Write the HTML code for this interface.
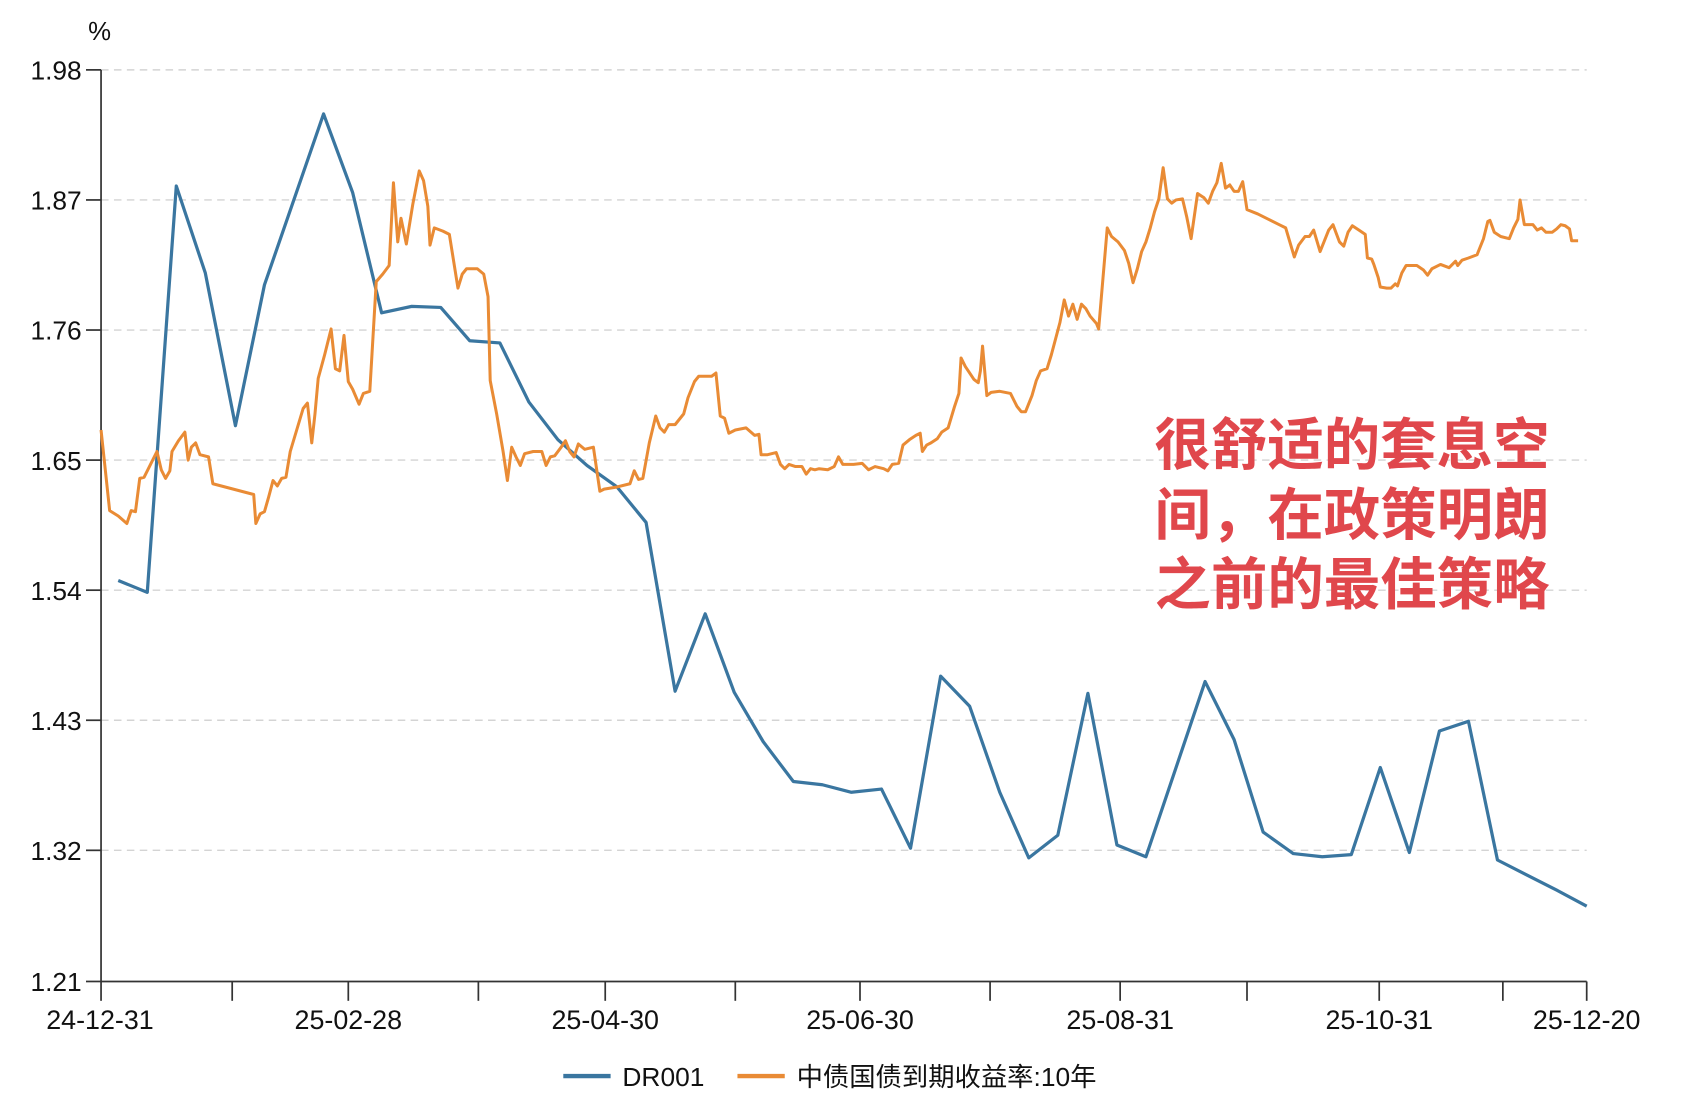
<!DOCTYPE html>
<html><head><meta charset="utf-8"><style>
html,body{margin:0;padding:0;background:#fff;}
svg{display:block;}
text{font-family:"Liberation Sans","Noto Sans CJK SC",sans-serif;fill:#111;}
</style></head><body>
<svg width="1686" height="1100" viewBox="0 0 1686 1100" xmlns="http://www.w3.org/2000/svg">
<g transform="scale(1.075)">
<g stroke="#d4d4d4" stroke-width="1.3" stroke-dasharray="7,5">
<line x1="94" y1="65" x2="1476" y2="65"/><line x1="94" y1="186" x2="1476" y2="186"/>
<line x1="94" y1="307" x2="1476" y2="307"/><line x1="94" y1="428" x2="1476" y2="428"/>
<line x1="94" y1="549" x2="1476" y2="549"/><line x1="94" y1="670" x2="1476" y2="670"/>
<line x1="94" y1="791" x2="1476" y2="791"/>
</g>
<g stroke="#333" stroke-width="1.6" fill="none">
<line x1="94" y1="65" x2="94" y2="913"/><line x1="94" y1="913" x2="1476" y2="913"/>
<line x1="80" y1="65" x2="94" y2="65"/><line x1="80" y1="186" x2="94" y2="186"/><line x1="80" y1="307" x2="94" y2="307"/><line x1="80" y1="428" x2="94" y2="428"/><line x1="80" y1="549" x2="94" y2="549"/><line x1="80" y1="670" x2="94" y2="670"/><line x1="80" y1="791" x2="94" y2="791"/><line x1="80" y1="913" x2="94" y2="913"/>
<line x1="94" y1="913" x2="94" y2="931"/><line x1="216" y1="913" x2="216" y2="931"/><line x1="324" y1="913" x2="324" y2="931"/><line x1="445" y1="913" x2="445" y2="931"/><line x1="563" y1="913" x2="563" y2="931"/><line x1="684" y1="913" x2="684" y2="931"/><line x1="800" y1="913" x2="800" y2="931"/><line x1="921" y1="913" x2="921" y2="931"/><line x1="1042" y1="913" x2="1042" y2="931"/><line x1="1160" y1="913" x2="1160" y2="931"/><line x1="1283" y1="913" x2="1283" y2="931"/><line x1="1398" y1="913" x2="1398" y2="931"/><line x1="1476" y1="913" x2="1476" y2="931"/>
</g>
<g font-size="24.5" text-anchor="end">
<text x="76" y="74">1.98</text><text x="76" y="195">1.87</text><text x="76" y="316">1.76</text><text x="76" y="437">1.65</text><text x="76" y="558">1.54</text><text x="76" y="679">1.43</text><text x="76" y="800">1.32</text><text x="76" y="922">1.21</text>
</g>
<text x="82" y="37" font-size="24" fill="#444">%</text>
<g font-size="25" text-anchor="middle">
<text x="93" y="957">24-12-31</text><text x="324" y="957">25-02-28</text><text x="563" y="957">25-04-30</text><text x="800" y="957">25-06-30</text><text x="1042" y="957">25-08-31</text><text x="1283" y="957">25-10-31</text><text x="1476" y="957">25-12-20</text>
</g>
<polyline fill="none" stroke="#3a76a0" stroke-width="3" stroke-linejoin="round" points="110,540 137,551 164,173 191,254 219,396 246,265 301,106 328,179 355,291 383,285 410,286 437,317 465,319 492,374 519,409 546,433 574,453 601,486 628,643 656,571 683,644 710,690 738,727 765,730 792,737 820,734 847,789 875,629 902,657 930,737 957,798 984,777 1012,645 1039,786 1066,797 1121,634 1148,688 1175,774 1203,794 1230,797 1257,795 1284,714 1311,793 1339,680 1366,671 1393,800 1448,828 1476,843"/>
<polyline fill="none" stroke="#e98b35" stroke-width="2.8" stroke-linejoin="round" points="94,400 102,475 110,480 118,487 122,475 126,476 130,445 134,444 140,432 146,420 150,437 154,445 158,438 160,420 166,410 172,402 175,428 178,416 182,412 186,423 194,425 198,450 236,460 238,487 242,478 246,476 250,462 254,447 258,452 262,445 266,444 270,420 276,400 282,380 286,375 290,412 293,385 296,352 302,330 308,306 312,343 316,345 320,312 324,355 328,362 334,376 338,366 344,364 350,262 356,255 362,247 366,170 370,225 373,203 378,227 384,190 390,159 394,168 398,192 400,228 404,212 412,215 418,218 426,268 430,255 434,250 444,250 450,255 454,276 456,354 462,385 468,420 472,447 476,416 480,425 484,433 488,422 496,420 504,420 508,433 512,425 516,424 522,416 526,410 530,420 534,425 538,413 544,418 552,416 558,457 562,455 574,453 586,450 590,438 594,446 598,445 604,412 610,387 614,398 618,402 622,395 628,395 636,385 640,370 646,355 650,350 656,350 662,350 666,347 670,387 674,389 678,403 684,400 694,398 702,405 706,404 708,423 714,423 722,421 726,432 730,436 734,432 740,434 746,434 750,441 754,436 758,437 762,436 770,437 776,434 780,425 784,432 794,432 802,431 808,437 814,434 822,436 826,438 830,432 836,431 840,414 846,409 852,405 856,403 858,420 862,414 866,412 872,408 876,402 882,398 888,378 892,366 894,333 898,341 906,353 910,356 912,345 914,322 918,368 922,365 930,364 940,366 946,378 950,383 954,383 960,368 964,354 968,345 974,343 978,330 982,315 986,300 990,279 994,294 998,283 1002,297 1006,283 1010,287 1014,294 1020,301 1022,306 1030,212 1034,220 1040,225 1046,233 1050,245 1054,263 1058,250 1062,234 1066,225 1070,212 1074,197 1078,185 1082,156 1086,185 1090,189 1094,186 1100,185 1104,202 1108,222 1114,180 1120,184 1124,189 1128,178 1132,170 1136,152 1140,175 1144,172 1148,178 1152,178 1156,169 1160,195 1170,199 1180,204 1190,209 1196,212 1204,239 1208,228 1214,220 1218,220 1222,214 1228,234 1232,224 1236,214 1240,209 1246,225 1250,229 1254,216 1258,210 1264,214 1270,218 1272,240 1276,241 1278,246 1282,258 1284,267 1290,268 1294,268 1298,264 1300,266 1304,254 1308,247 1312,247 1318,247 1324,251 1328,256 1332,250 1340,246 1348,249 1354,243 1356,247 1360,242 1366,240 1374,237 1380,222 1384,206 1386,205 1390,216 1396,220 1404,222 1408,212 1412,204 1414,186 1418,209 1426,209 1430,214 1434,212 1438,216 1444,216 1448,213 1452,209 1456,210 1460,213 1462,224 1468,224"/>
<g font-size="52.5" font-weight="bold">
<text x="1074" y="432" style="fill:#e0474c">很舒适的套息空</text>
<text x="1074" y="497" style="fill:#e0474c">间，在政策明朗</text>
<text x="1074" y="562" style="fill:#e0474c">之前的最佳策略</text>
</g>
<line x1="524" y1="1001" x2="568" y2="1001" stroke="#3a76a0" stroke-width="4"/>
<text x="579" y="1010" font-size="24.5">DR001</text>
<line x1="686" y1="1001" x2="730" y2="1001" stroke="#e98b35" stroke-width="4"/>
<text x="741" y="1010" font-size="24.5">中债国债到期收益率:10年</text>
</g>
</svg>
</body></html>
